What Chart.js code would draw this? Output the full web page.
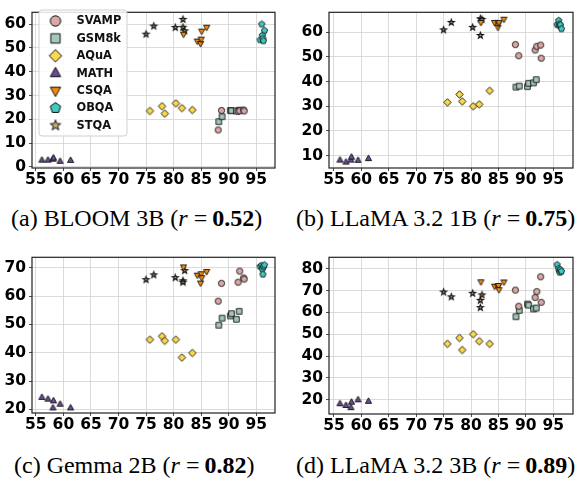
<!DOCTYPE html>
<html><head><meta charset="utf-8">
<script src="https://cdn.jsdelivr.net/npm/chart.js@4.4.0/dist/chart.umd.min.js"></script>
<style>
body{margin:0;background:#fff;width:582px;height:483px;position:relative;overflow:hidden}
.pane{position:absolute}
.cap{position:absolute;font-family:"Liberation Serif","Times New Roman",serif;font-size:24px;color:#000;white-space:nowrap;line-height:24px}
.eq{padding:0 5px 0 6px}
</style></head><body>
<div class="pane" style="left:0;top:0;width:280px;height:190px"><canvas id="c0"></canvas></div>
<div class="pane" style="left:290px;top:0;width:290px;height:190px"><canvas id="c1"></canvas></div>
<div class="pane" style="left:0;top:245px;width:280px;height:190px"><canvas id="c2"></canvas></div>
<div class="pane" style="left:290px;top:245px;width:290px;height:190px"><canvas id="c3"></canvas></div>
<div class="cap" style="left:11px;top:206px">(a) BLOOM 3B (<i>r</i><span class="eq">=</span><b>0.52</b>)</div>
<div class="cap" style="left:296px;top:206px">(b) LLaMA 3.2 1B (<i>r</i><span class="eq">=</span><b>0.75</b>)</div>
<div class="cap" style="left:14px;top:453px">(c) Gemma 2B (<i>r</i><span class="eq">=</span><b>0.82</b>)</div>
<div class="cap" style="left:296px;top:453px">(d) LLaMA 3.2 3B (<i>r</i><span class="eq">=</span><b>0.89</b>)</div>
<script>
// ═══ DATA ═══
const datasetNames = ['SVAMP', 'GSM8k', 'AQuA', 'MATH', 'CSQA', 'OBQA', 'STQA'];
const xTicks = [55, 60, 65, 70, 75, 80, 85, 90, 95];

// x positions (shared by all four panels)
const xSVAMP = [88.1, 88.7, 91.7, 92.0, 92.7, 92.8];
const xGSM8k = [88.2, 88.8, 90.3, 90.5, 91.4, 91.9];
const xAQuA  = [75.7, 77.9, 78.4, 80.4, 81.5, 83.4];
const xMATH  = [56.1, 57.2, 58.1, 58.2, 59.4, 61.3];
const xCSQA  = [81.8, 84.3, 84.9, 85.0, 85.1, 86.0];
const xOBQA  = [95.7, 96.0, 96.1, 96.2, 96.3, 96.5];
const xSTQA  = [75.0, 76.4, 80.3, 81.7, 81.7, 82.0];

// (a) BLOOM 3B
const bloomSVAMP = [15.5, 23.7, 23.3, 23.6, 23.9, 23.5];
const bloomGSM8k = [19.0, 21.1, 23.7, 23.6, 23.5, 23.8];
const bloomAQuA  = [23.5, 25.5, 22.4, 26.7, 24.7, 23.9];
const bloomMATH  = [2.8, 2.8, 3.2, 3.7, 2.3, 2.7];
const bloomCSQA  = [55.8, 52.9, 51.9, 53.7, 57.1, 58.7];
const bloomOBQA  = [53.4, 60.0, 55.3, 53.9, 53.0, 57.3];
const bloomSTQA  = [55.8, 59.2, 58.6, 62.0, 58.7, 57.2];
// (b) LLaMA 3.2 1B
const l1SVAMP = [55.0, 50.5, 52.8, 54.3, 54.8, 49.5];
const l1GSM8k = [37.8, 38.2, 38.0, 39.3, 39.5, 40.8];
const l1AQuA  = [31.6, 34.8, 32.0, 30.0, 30.8, 36.3];
const l1MATH  = [8.2, 7.4, 8.2, 9.4, 8.1, 8.8];
const l1CSQA  = [64.0, 64.0, 62.0, 63.5, 64.0, 65.3];
const l1OBQA  = [63.1, 64.8, 63.3, 62.6, 63.0, 61.4];
const l1STQA  = [61.0, 64.0, 62.0, 58.7, 65.5, 65.2];
// (c) Gemma 2B
const gemSVAMP = [58.2, 64.5, 64.9, 68.8, 66.4, 66.0];
const gemGSM8k = [49.7, 52.2, 53.0, 53.8, 51.8, 54.6];
const gemAQuA  = [44.6, 45.8, 44.2, 44.6, 38.3, 39.9];
const gemMATH  = [24.2, 23.6, 20.5, 23.0, 21.8, 20.5];
const gemCSQA  = [70.3, 67.4, 64.6, 67.9, 66.5, 68.7];
const gemOBQA  = [70.5, 70.8, 69.5, 67.7, 70.4, 71.0];
const gemSTQA  = [65.8, 67.5, 66.5, 65.4, 64.9, 69.0];
// (d) LLaMA 3.2 3B
const l3SVAMP = [70.2, 62.8, 66.8, 69.5, 76.3, 64.6];
const l3GSM8k = [58.0, 60.9, 63.8, 63.3, 61.6, 62.0];
const l3AQuA  = [45.6, 48.3, 42.8, 50.0, 46.8, 45.6];
const l3MATH  = [18.2, 17.4, 16.4, 18.9, 20.0, 19.3];
const l3CSQA  = [74.0, 72.0, 71.8, 72.3, 70.4, 73.9];
const l3OBQA  = [81.8, 80.0, 79.0, 78.3, 79.5, 78.8];
const l3STQA  = [69.3, 67.1, 68.7, 65.5, 62.2, 68.0];

const yTicksA = [0, 10, 20, 30, 40, 50, 60];
const yTicksB = [10, 20, 30, 40, 50, 60];
const yTicksC = [20, 30, 40, 50, 60, 70];
const yTicksD = [20, 30, 40, 50, 60, 70, 80];

// ═══ STYLE ═══
const xs = [xSVAMP, xGSM8k, xAQuA, xMATH, xCSQA, xOBQA, xSTQA];
const fills = ['#d9a7a7', '#a3c8b7', '#fbd94c', '#6a4c93', '#f08b0c', '#3fc9c1', '#c2ab6e'];
const shapes = ['circle', 'square', 'diamond', 'triUp', 'triDown', 'pentagon', 'star'];
const tickFont = { family: '"DejaVu Sans", sans-serif', weight: 'bold', size: 15.5 };

function tracePath(g, shape, r) {
    g.beginPath();
    if (shape === 'circle') { g.arc(0, 0, r, 0, Math.PI * 2); }
    else if (shape === 'square') { g.rect(-r * 0.9, -r * 0.9, r * 1.8, r * 1.8); }
    else if (shape === 'diamond') { const d = r * 1.2; g.moveTo(0, -d); g.lineTo(d, 0); g.lineTo(0, d); g.lineTo(-d, 0); g.closePath(); }
    else if (shape === 'triUp') { g.moveTo(0, -r * 1.15); g.lineTo(r, r * 0.65); g.lineTo(-r, r * 0.65); g.closePath(); }
    else if (shape === 'triDown') { g.moveTo(0, r * 1.15); g.lineTo(r, -r * 0.65); g.lineTo(-r, -r * 0.65); g.closePath(); }
    else if (shape === 'pentagon') {
        for (let k = 0; k < 5; k++) { const a = -Math.PI / 2 + k * 2 * Math.PI / 5; g[k ? 'lineTo' : 'moveTo'](Math.cos(a) * r * 1.05, Math.sin(a) * r * 1.05); }
        g.closePath();
    } else if (shape === 'star') {
        for (let k = 0; k < 10; k++) { const a = -Math.PI / 2 + k * Math.PI / 5, rr = k % 2 ? r * 0.5 : r * 1.2; g[k ? 'lineTo' : 'moveTo'](Math.cos(a) * rr, Math.sin(a) * rr); }
        g.closePath();
    }
}
function markerCanvas(shape, fill, r, lw) {
    const s = Math.ceil(r * 2.6 + 4);
    const c = document.createElement('canvas'); c.width = c.height = s;
    const g = c.getContext('2d'); g.translate(s / 2, s / 2);
    tracePath(g, shape, r); g.fillStyle = fill; g.fill(); g.lineWidth = lw; g.strokeStyle = '#111'; g.stroke();
    return c;
}
const pointImgs = shapes.map((s, i) => markerCanvas(s, fills[i], s === 'star' ? 2.6 : 3.1, s === 'star' ? 1.2 : 0.9));
const legendImgs = shapes.map((s, i) => markerCanvas(s, fills[i], s === 'star' ? 4.6 : 5.2, 1));

// frame around plot area
const framePlugin = { id: 'frame', afterDraw(chart) {
    const a = chart.chartArea, g = chart.ctx;
    g.save(); g.strokeStyle = '#222'; g.lineWidth = 1.2; g.strokeRect(a.left, a.top, a.right - a.left, a.bottom - a.top); g.restore();
} };
// legend box inside panel (a)
const legendPlugin = { id: 'boxLegend', afterDraw(chart) {
    if (!chart.options.plugins.boxLegend || !chart.options.plugins.boxLegend.show) return;
    const g = chart.ctx;
    g.save();
    g.beginPath(); g.roundRect(39, 10, 88, 126, 3);
    g.fillStyle = 'rgba(255,255,255,0.85)'; g.fill(); g.strokeStyle = '#cfcfcf'; g.lineWidth = 1; g.stroke();
    g.font = 'bold 11.4px "DejaVu Sans"'; g.fillStyle = '#111'; g.textBaseline = 'middle';
    datasetNames.forEach((n, i) => {
        const y = 21 + i * 17.4, img = legendImgs[i];
        g.drawImage(img, 55.5 - img.width / 2, y - img.height / 2);
        g.fillText(n, 76.5, y + 0.5);
    });
    g.restore();
} };

function makePanel(id, ys, o) {
    new Chart(document.getElementById(id), {
        type: 'scatter',
        data: { datasets: datasetNames.map((n, i) => ({
            label: n,
            data: xs[i].map((x, j) => ({ x: x, y: ys[i][j] })),
            pointStyle: pointImgs[i], pointRadius: 3.5, pointHoverRadius: 3.5
        })) },
        options: {
            animation: false, responsive: true, maintainAspectRatio: false,
            layout: { padding: { top: o.padTop, right: o.padRight, left: 0, bottom: 0 } },
            plugins: { legend: { display: false }, tooltip: { enabled: false }, boxLegend: { show: !!o.legend } },
            scales: {
                x: {
                    type: 'linear', min: o.xMin, max: o.xMax,
                    afterBuildTicks: s => { s.ticks = xTicks.map(v => ({ value: v })); },
                    afterFit: s => { s.height = o.xAxisH; },
                    border: { display: false },
                    grid: { color: '#d2d2d2', lineWidth: 0.8, borderDash: [2, 2], tickLength: 3, tickColor: '#222', tickBorderDash: [] },
                    ticks: { color: '#000', padding: 0, maxRotation: 0, autoSkip: false, font: tickFont }
                },
                y: {
                    type: 'linear', min: o.yMin, max: o.yMax,
                    afterBuildTicks: s => { s.ticks = o.yTicks.map(v => ({ value: v })); },
                    afterFit: s => { s.width = o.yAxisW; },
                    border: { display: false },
                    grid: { color: '#d2d2d2', lineWidth: 0.8, borderDash: [2, 2], tickLength: 3, tickColor: '#222', tickBorderDash: [] },
                    ticks: { color: '#000', padding: 3, autoSkip: false, font: tickFont }
                }
            }
        },
        plugins: [framePlugin, legendPlugin]
    });
}

makePanel('c0', [bloomSVAMP, bloomGSM8k, bloomAQuA, bloomMATH, bloomCSQA, bloomOBQA, bloomSTQA],
    { xMin: 54.3, xMax: 98.4, yMin: -0.5, yMax: 65, yTicks: yTicksA, yAxisW: 32, xAxisH: 22, padTop: 4, padRight: 5, legend: true });
makePanel('c1', [l1SVAMP, l1GSM8k, l1AQuA, l1MATH, l1CSQA, l1OBQA, l1STQA],
    { xMin: 54.1, xMax: 98.6, yMin: 5.0, yMax: 68.1, yTicks: yTicksB, yAxisW: 39, xAxisH: 22, padTop: 5, padRight: 7 });
makePanel('c2', [gemSVAMP, gemGSM8k, gemAQuA, gemMATH, gemCSQA, gemOBQA, gemSTQA],
    { xMin: 54.3, xMax: 98.4, yMin: 18.7, yMax: 73.7, yTicks: yTicksC, yAxisW: 32, xAxisH: 22, padTop: 4, padRight: 5 });
makePanel('c3', [l3SVAMP, l3GSM8k, l3AQuA, l3MATH, l3CSQA, l3OBQA, l3STQA],
    { xMin: 54.1, xMax: 98.6, yMin: 13.5, yMax: 85.2, yTicks: yTicksD, yAxisW: 39, xAxisH: 21, padTop: 4, padRight: 7 });
</script>
</body></html>
